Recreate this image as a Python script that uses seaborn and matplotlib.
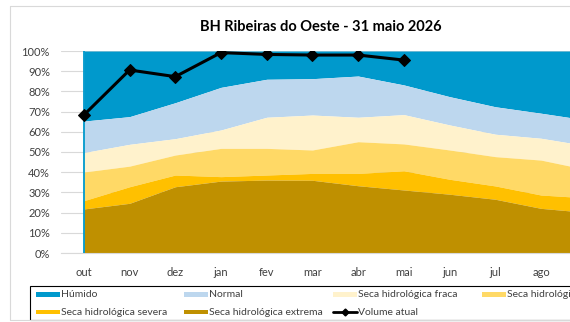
import matplotlib
matplotlib.use("Agg")
import matplotlib.pyplot as plt
from matplotlib.patches import Rectangle
from matplotlib.lines import Line2D
import numpy as np
import pandas as pd
import seaborn as sns

# Hydrological year months
months = ["out", "nov", "dez", "jan", "fev", "mar", "abr", "mai", "jun", "jul", "ago", "set"]

# Upper limit (%) of each drought class per month
normal_top = [65.3, 67.5, 74.4, 82.0, 86.0, 86.3, 87.6, 83.2, 77.4, 72.4, 69.2, 65.8]
fraca_top = [49.7, 53.8, 56.6, 60.9, 67.2, 68.3, 67.2, 68.5, 63.4, 58.8, 56.8, 53.1]
moderada_top = [40.1, 43.0, 48.5, 51.8, 51.8, 51.0, 55.1, 54.0, 51.0, 47.7, 46.0, 41.3]
severa_top = [25.9, 32.8, 38.6, 37.8, 38.6, 39.4, 39.4, 40.7, 36.5, 33.2, 28.7, 27.3]
extrema_top = [21.8, 24.6, 32.8, 35.6, 36.1, 36.0, 33.3, 31.2, 29.1, 26.6, 22.1, 20.1]
humido_top = [100] * len(months)

# Current stored volume (%)
volume_atual = [68.3, 90.6, 87.3, 99.2, 98.3, 98.0, 98.0, 95.5]

labels = ["Húmido", "Normal", "Seca hidrológica fraca", "Seca hidrológica moderada",
          "Seca hidrológica severa", "Seca hidrológica extrema"]
colors = ["#0099CC", "#BDD7EE", "#FFF2CC", "#FFD966", "#FFC000", "#BF9000"]

sns.set_theme(style="white")
plt.rcParams["font.family"] = ["Lato", "DejaVu Sans"]

W, H = 570, 322
fig = plt.figure(figsize=(W / 100, H / 100), dpi=100)

def fx(px):
    return px / W

def fy(py):
    return 1 - py / H

ax = fig.add_axes([fx(61), fy(253), fx(609.6) - fx(61), fy(51) - fy(253)])

x = np.arange(len(months))
tops = [humido_top, normal_top, fraca_top, moderada_top, severa_top, extrema_top]
bottoms = tops[1:] + [[0] * len(months)]
for top, bot, col in zip(tops, bottoms, colors):
    ax.fill_between(x, bot, top, color=col, linewidth=0, zorder=2)
ax.vlines(x[0], 0, humido_top[0], color=colors[0], linewidth=1.3, zorder=3)

vol = pd.DataFrame({"mes": x[:len(volume_atual)], "volume": volume_atual})
sns.lineplot(data=vol, x="mes", y="volume", ax=ax, color="black", linewidth=2.2,
             marker="D", markersize=6.5, markeredgecolor="black", zorder=5,
             legend=False)

ax.set_xlim(-0.5, len(months) - 0.5)
ax.set_ylim(0, 100)
# the last month sits past the right edge of the figure, so it carries no label
ax.set_xticks(x[:-1])
ax.set_xticklabels(months[:-1])
ax.set_yticks(np.arange(0, 101, 10))
ax.set_yticklabels([f"{v}%" for v in range(0, 101, 10)])
ax.set_xlabel("")
ax.set_ylabel("")
ax.grid(axis="y", color="#D9D9D9", linewidth=0.8, zorder=0)
ax.set_axisbelow(True)
for s in ["top", "right", "left"]:
    ax.spines[s].set_visible(False)
ax.spines["bottom"].set_color("#D9D9D9")
ax.spines["bottom"].set_linewidth(0.8)
ax.tick_params(axis="x", length=0, pad=10, labelsize=8, labelcolor="#404040")
ax.tick_params(axis="y", length=0, pad=8, labelsize=8, labelcolor="#404040")

fig.text(fx(321), fy(27), "BH Ribeiras do Oeste - 31 maio 2026", ha="center",
         va="center", fontsize=10.5, fontweight="bold", color="black")

# Chart frame
fig.add_artist(Line2D([fx(9.5), fx(W + 5)], [fy(6), fy(6)], color="#D9D9D9", lw=0.8))
fig.add_artist(Line2D([fx(9.5), fx(9.5)], [fy(6), fy(320)], color="#D9D9D9", lw=0.8))
fig.add_artist(Line2D([fx(9.5), fx(W + 5)], [fy(320), fy(320)], color="#D9D9D9", lw=0.8))

# Legend box
fig.add_artist(Rectangle((fx(30), fy(320)), fx(W + 20) - fx(30), fy(286) - fy(320),
                         facecolor="none", edgecolor="black", lw=0.8))

col_x = [36, 184, 333, 482]
row_y = [294.3, 312.3]
entries = [(labels[0], colors[0], "patch", 0, 0, 5.5),
           (labels[1], colors[1], "patch", 1, 0, 4.5),
           (labels[2], colors[2], "patch", 2, 0, 4.5),
           (labels[3], colors[3], "patch", 3, 0, 4.5),
           (labels[4], colors[4], "patch", 0, 1, 4.0),
           (labels[5], colors[5], "patch", 1, 1, 4.0),
           ("Volume atual", "black", "line", 2, 1, 0)]
for text, col, kind, ci, ri, hgt in entries:
    x0 = col_x[ci]
    yc = row_y[ri]
    if kind == "patch":
        fig.add_artist(Rectangle((fx(x0), fy(yc + hgt / 2)), fx(23.5), hgt / H,
                                 facecolor=col, edgecolor="none"))
    else:
        fig.add_artist(Line2D([fx(x0), fx(x0 + 24)], [fy(yc), fy(yc)], color=col, lw=2.0))
        fig.add_artist(Line2D([fx(x0 + 12)], [fy(yc)], color=col, marker="D",
                              markersize=3.5, lw=0))
    fig.text(fx(x0 + 25), fy(yc), text, ha="left", va="center", fontsize=7.5,
             color="#404040")

fig.savefig("out.png", dpi=100)
